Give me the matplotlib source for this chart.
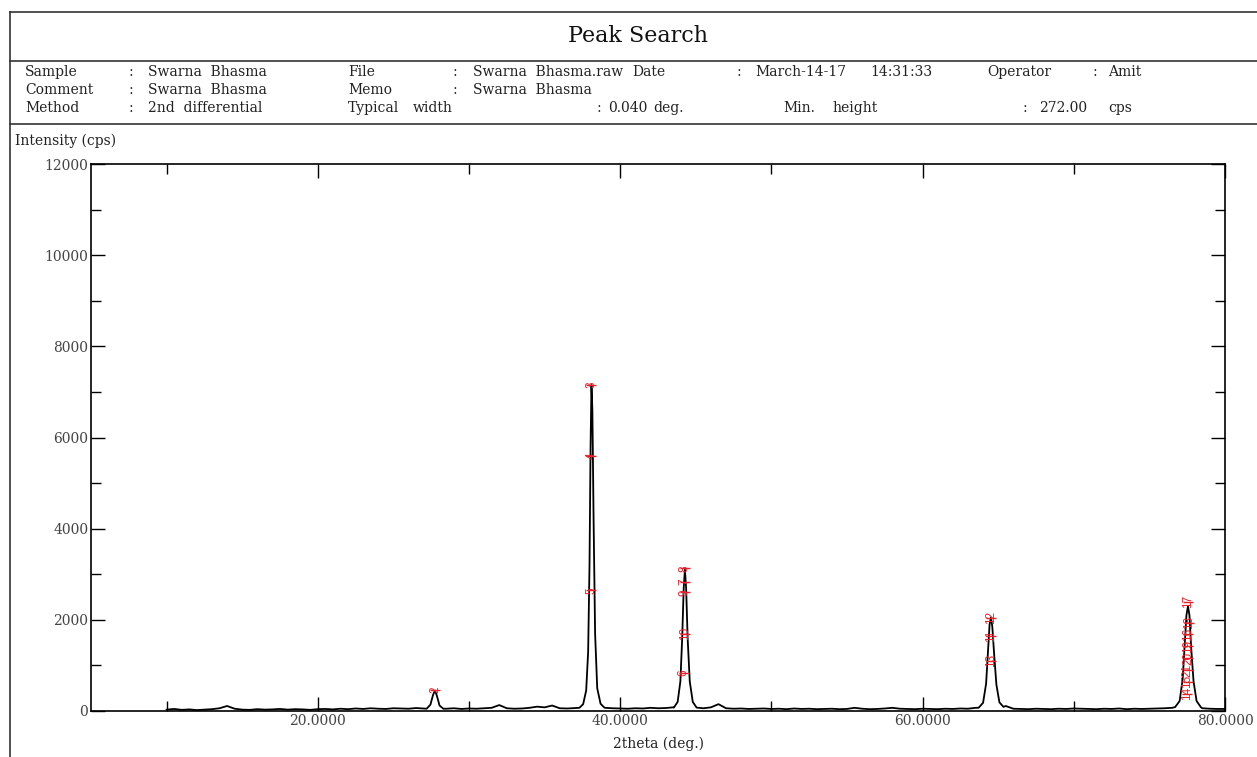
import numpy as np
import matplotlib
matplotlib.use('Agg')
import matplotlib.pyplot as plt
from matplotlib.lines import Line2D
from matplotlib.ticker import MultipleLocator

plt.rcParams['font.family'] = ['DejaVu Serif']

# background counts, 10.0 .. 80.0 deg in 0.5 deg steps
bg_start, bg_step = 10.0, 0.5
bg_counts = [
    30, 45, 25, 35, 20, 30, 40, 60, 110, 50,
    30, 25, 40, 30, 35, 45, 30, 40, 35, 25,
    40, 45, 35, 50, 40, 55, 45, 60, 50, 45,
    60, 55, 50, 65, 55, 70, 65, 50, 60, 45,
    55, 50, 60, 70, 130, 60, 50, 55, 70, 95,
    80, 120, 60, 55, 65, 80, 90, 80, 70, 60,
    55, 50, 60, 55, 70, 60, 65, 80, 90, 90,
    70, 60, 80, 150, 60, 50, 55, 45, 50, 55,
    45, 50, 40, 55, 45, 50, 40, 45, 50, 40,
    45, 70, 50, 40, 45, 55, 70, 50, 45, 40,
    50, 45, 40, 50, 45, 55, 50, 70, 80, 80,
    80, 110, 50, 45, 40, 50, 45, 40, 50, 45,
    55, 50, 45, 40, 50, 45, 55, 40, 50, 45,
    50, 55, 60, 70, 80, 80, 90, 60, 50, 45,
    45,
]

# peak profiles (2theta, cps)
p27_x = [27.2, 27.45, 27.62, 27.75, 27.88, 28.05, 28.3]
p27_y = [50, 140, 350, 450, 330, 120, 50]
p38_x = [37.3, 37.55, 37.75, 37.88, 37.97, 38.04, 38.1, 38.16, 38.24, 38.34, 38.48, 38.7, 38.95]
p38_y = [70, 150, 450, 1300, 3200, 5800, 7150, 6600, 4200, 1700, 500, 160, 75]
p44_x = [43.55, 43.8, 43.98, 44.1, 44.2, 44.28, 44.36, 44.46, 44.6, 44.8, 45.05]
p44_y = [75, 200, 650, 1600, 2700, 3100, 2700, 1600, 650, 200, 75]
p64_x = [63.7, 64.0, 64.2, 64.33, 64.43, 64.52, 64.61, 64.72, 64.88, 65.08, 65.35]
p64_y = [70, 180, 600, 1350, 1900, 2050, 1850, 1300, 580, 190, 90]
p77_x = [76.7, 77.0, 77.2, 77.34, 77.45, 77.55, 77.65, 77.76, 77.92, 78.12, 78.4]
p77_y = [85, 220, 700, 1500, 2100, 2300, 2100, 1400, 650, 220, 85]

# peak search marks
mark_ids = ['2', '3', '4', '5', '6', '7', '8', '9', '10', '11', '12', '13',
            '14', '15', '16', '17', '18', '19', '20', '21']
mark_x = [27.75, 38.1, 38.1, 38.1, 44.2, 44.26, 44.28, 44.28, 44.3, 64.5,
          64.52, 64.55, 77.5, 77.52, 77.55, 77.57, 77.6, 77.55, 77.58, 77.52]
mark_y = [470, 7150, 5600, 2650, 830, 2830, 3130, 2600, 1700, 1650,
          2050, 1100, 380, 640, 1680, 2400, 1940, 1420, 1160, 900]

# header block
header_rows = [
    [(25, 'Sample'), (128, ':'), (148, 'Swarna  Bhasma'), (348, 'File'), (453, ':'),
     (473, 'Swarna  Bhasma.raw'), (632, 'Date'), (737, ':'), (755, 'March-14-17'),
     (870, '14:31:33'), (987, 'Operator'), (1092, ':'), (1108, 'Amit')],
    [(25, 'Comment'), (128, ':'), (148, 'Swarna  Bhasma'), (348, 'Memo'), (453, ':'),
     (473, 'Swarna  Bhasma')],
    [(25, 'Method'), (128, ':'), (148, '2nd  differential'), (348, 'Typical'), (413, 'width'),
     (597, ':'), (608, '0.040'), (653, 'deg.'), (783, 'Min.'), (832, 'height'),
     (1022, ':'), (1039, '272.00'), (1108, 'cps')],
]
row_y = [72, 90, 108]

# merge background with peaks
bg_x = bg_start + bg_step * np.arange(len(bg_counts))
bg_y = np.array(bg_counts, dtype=float)
peaks = [(p27_x, p27_y), (p38_x, p38_y), (p44_x, p44_y), (p64_x, p64_y), (p77_x, p77_y)]
keep = np.ones(len(bg_x), dtype=bool)
for px, py in peaks:
    keep &= ~((bg_x >= px[0]) & (bg_x <= px[-1]))
xs = np.concatenate([bg_x[keep]] + [np.array(p[0]) for p in peaks])
ys = np.concatenate([bg_y[keep]] + [np.array(p[1]) for p in peaks])
order = np.argsort(xs)
xs, ys = xs[order], ys[order]

W, H = 1257, 757
fig = plt.figure(figsize=(W / 100, H / 100), dpi=100)

def fx(px):
    return px / W

def fy(py):
    return 1 - py / H

# frame lines
for yy in [12, 61, 124]:
    fig.add_artist(Line2D([fx(10), 1], [fy(yy), fy(yy)], color='#333333', lw=1.2))
fig.add_artist(Line2D([fx(10), fx(10)], [fy(12), 0], color='#333333', lw=1.2))

fig.text(fx(638), fy(36), 'Peak Search', fontsize=16, ha='center', va='center', color='#111111')
for row, yy in zip(header_rows, row_y):
    for px, s in row:
        fig.text(fx(px), fy(yy), s, fontsize=10, ha='left', va='center', color='#222222')

fig.text(fx(15), fy(141), 'Intensity (cps)', fontsize=10, ha='left', va='center', color='#222222')

ax = fig.add_axes([fx(91), fy(711), fx(1225) - fx(91), fy(164) - fy(711)])
ax.plot(xs, ys, color='black', lw=1.3)

for lab, mx, my in zip(mark_ids, mark_x, mark_y):
    ax.plot([mx], [my], marker='_', color='#e8202a', ms=7, mew=1.0, zorder=3)
    ax.text(mx, my, lab, color='#e8202a', fontsize=8.5, rotation=90, ha='center', va='center',
            family=['Liberation Sans'], zorder=4)

ax.set_xlim(5, 80)
ax.set_ylim(0, 12000)
ax.set_xticks([20, 40, 60, 80])
ax.set_xticklabels(['20.0000', '40.0000', '60.0000', '80.0000'])
ax.xaxis.set_minor_locator(MultipleLocator(10))
ax.set_yticks(np.arange(0, 12001, 2000))
ax.yaxis.set_minor_locator(MultipleLocator(1000))
ax.tick_params(which='both', direction='in', top=True, right=True, labelsize=10,
               labelcolor='#444444', width=1.0)
ax.tick_params(which='major', length=10, pad=2)
ax.tick_params(which='minor', length=7)
for sp in ax.spines.values():
    sp.set_linewidth(1.2)
ax.set_xlabel('2theta (deg.)', fontsize=10, color='#222222', labelpad=6)

fig.savefig('out.png', dpi=100)
